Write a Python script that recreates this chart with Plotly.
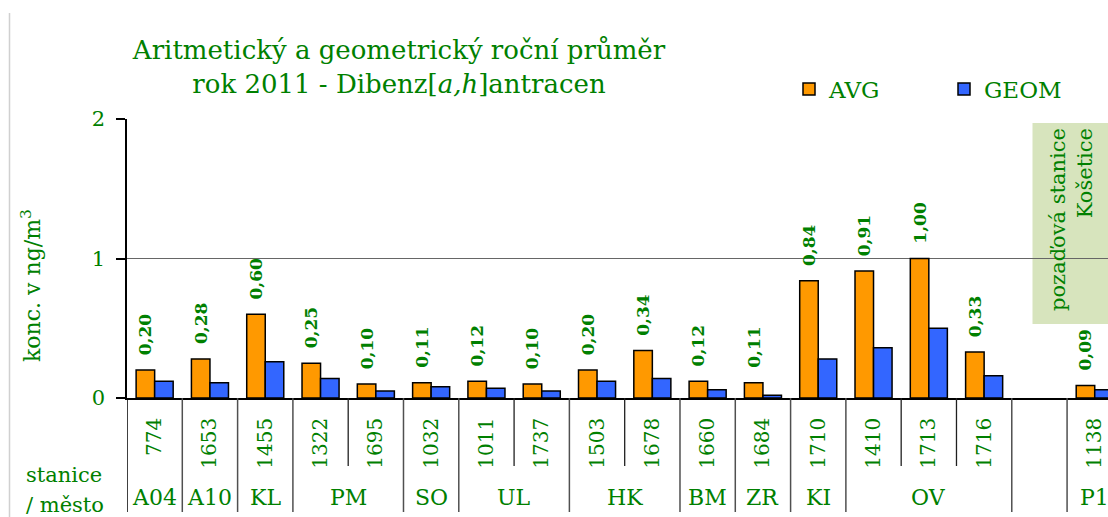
import plotly.graph_objects as go

# ---- data ----
stations = ["774", "1653", "1455", "1322", "1695", "1032", "1011", "1737", "1503",
            "1678", "1660", "1684", "1710", "1410", "1713", "1716", " ", "1138"]
avg = [0.20, 0.28, 0.60, 0.25, 0.10, 0.11, 0.12, 0.10, 0.20,
       0.34, 0.12, 0.11, 0.84, 0.91, 1.00, 0.33, None, 0.09]
geom = [0.12, 0.11, 0.26, 0.14, 0.05, 0.08, 0.07, 0.05, 0.12,
        0.14, 0.06, 0.02, 0.28, 0.36, 0.50, 0.16, None, 0.06]
groups = ["A04", "A10", "KL", "PM", "SO", "UL", "HK", "BM", "ZR", "KI", "OV", "", "P1"]
group_sizes = [1, 1, 1, 2, 1, 2, 2, 1, 1, 1, 3, 1, 1]
y_ticks = [0, 1, 2]

GREEN = "#008000"
FONT = "DejaVu Serif"
W, H = 1108, 517
ML, MR, MT, MB = 127, 0, 119, 119
PW, PH = W - ML - MR, H - MT - MB


def px_x(p):
    return (p - ML) / PW


def px_y(p):
    return (H - MB - p) / PH


def fmt(v):
    return "" if v is None else "\u00a0\u00a0" + f"{v:.2f}".replace(".", ",")


fig = go.Figure()
fig.add_trace(go.Bar(
    name="AVG", x=stations, y=avg,
    marker=dict(color="#FF9900", line=dict(color="black", width=1.5)),
    text=[fmt(v) for v in avg], textposition="outside", textangle=-90,
    textfont=dict(family=FONT, size=17, color=GREEN, weight="bold"),
    constraintext="none", cliponaxis=False,
))
fig.add_trace(go.Bar(
    name="GEOM", x=stations, y=geom,
    marker=dict(color="#3366FF", line=dict(color="black", width=1.5)),
))

shapes = []
annotations = []

# table separators and group labels
start = 0
for gi, (g, n) in enumerate(zip(groups, group_sizes)):
    x0 = start - 0.5
    shapes.append(dict(type="line", xref="x", yref="paper", x0=x0, x1=x0,
                       y0=0, y1=px_y(512),
                       line=dict(color="black" if start == 0 else "#505050", width=1.5)))
    for k in range(1, n):
        xs = start + k - 0.5
        shapes.append(dict(type="line", xref="x", yref="paper", x0=xs, x1=xs,
                           y0=0, y1=px_y(466), line=dict(color="#202020", width=1.3)))
    if g:
        annotations.append(dict(text=g, xref="x", yref="paper",
                                x=start + (n - 1) / 2, y=px_y(497),
                                xanchor="center", yanchor="middle", showarrow=False,
                                font=dict(family=FONT, size=22, color=GREEN)))
    start += n
shapes.append(dict(type="line", xref="x", yref="paper", x0=start - 0.5, x1=start - 0.5,
                   y0=0, y1=px_y(512), line=dict(color="#505050", width=1.5)))

# background station box
shapes.append(dict(type="rect", xref="paper", yref="paper",
                   x0=px_x(1032.5), x1=1.02, y0=px_y(324), y1=px_y(123),
                   fillcolor="#D7E4BD", line=dict(width=0), layer="below"))
annotations.append(dict(text="pozaďová stanice<br>Košetice", xref="paper", yref="paper",
                        x=px_x(1071), y=px_y(220), textangle=-90, align="right",
                        xanchor="center", yanchor="middle", showarrow=False,
                        font=dict(family=FONT, size=21, color=GREEN)))

# left border of chart
shapes.append(dict(type="line", xref="paper", yref="paper",
                   x0=px_x(9.5), x1=px_x(9.5), y0=px_y(517), y1=px_y(13),
                   line=dict(color="#D0D0D0", width=1.5)))

# axis title & table header
annotations.append(dict(text="konc. v ng/m<sup>3</sup>", xref="paper", yref="paper",
                        x=px_x(31), y=px_y(286), textangle=-90,
                        xanchor="center", yanchor="middle", showarrow=False,
                        font=dict(family=FONT, size=22, color=GREEN)))
annotations.append(dict(text="stanice", xref="paper", yref="paper",
                        x=px_x(64), y=px_y(475), xanchor="center", yanchor="middle",
                        showarrow=False, font=dict(family=FONT, size=21, color=GREEN)))
annotations.append(dict(text="/ město", xref="paper", yref="paper",
                        x=px_x(65), y=px_y(505), xanchor="center", yanchor="middle",
                        showarrow=False, font=dict(family=FONT, size=21, color=GREEN)))

fig.update_layout(
    width=W, height=H,
    margin=dict(l=ML, r=MR, t=MT, b=MB, pad=0, autoexpand=False),
    paper_bgcolor="white", plot_bgcolor="white",
    barmode="group", bargap=0.33, bargroupgap=0,
    font=dict(family=FONT, color=GREEN),
    title=dict(text="Aritmetický a geometrický roční průměr<br>rok 2011 - Dibenz[<i>a,h</i>]antracen",
               x=399 / W, xanchor="center", y=1 - 59 / H, yanchor="top",
               font=dict(family=FONT, size=26, color=GREEN)),
    legend=dict(orientation="h", xref="container", yref="container",
                x=789 / W, y=1 - 89 / H, xanchor="left", yanchor="middle",
                entrywidth=110, entrywidthmode="pixels",
                font=dict(family=FONT, size=23, color=GREEN),
                bgcolor="rgba(0,0,0,0)"),
    xaxis=dict(categoryorder="array", categoryarray=stations, range=[-0.5, 17.24],
               showline=True, linecolor="black", linewidth=1.5, automargin=False,
               ticks="", tickangle=-90, ticklabelstandoff=10,
               tickfont=dict(family=FONT, size=20, color=GREEN),
               showgrid=False, zeroline=False, fixedrange=True),
    yaxis=dict(range=[0, 2], tickvals=y_ticks, showline=True, linecolor="black", linewidth=1.5,
               ticks="outside", ticklen=9, tickcolor="black", tickwidth=1.5,
               ticklabelstandoff=7, automargin=False,
               tickfont=dict(family=FONT, size=21, color=GREEN),
               showgrid=True, gridcolor="#666666", gridwidth=1.3, zeroline=False),
    shapes=shapes, annotations=annotations,
)

fig.write_html("out.html", config={"displayModeBar": False},
               post_script="document.body.style.margin='0';")
